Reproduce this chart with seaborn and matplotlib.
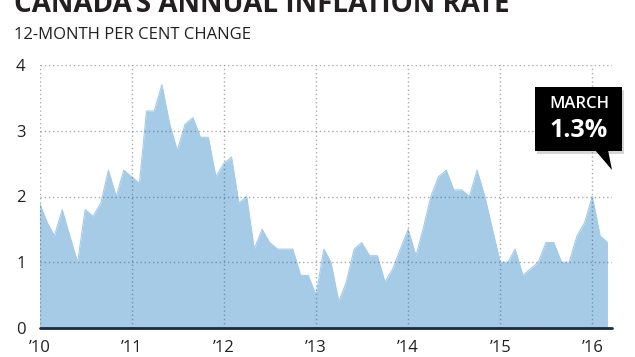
import matplotlib.pyplot as plt
import numpy as np
import pandas as pd
import seaborn as sns
from matplotlib.patches import Polygon, Rectangle

# Monthly 12-month CPI change, Jan 2010 - Mar 2016
MONTHS = pd.date_range('2010-01-01', '2016-03-01', freq='MS')
RATES = [
    1.9, 1.6, 1.4, 1.8, 1.4, 1.0, 1.8, 1.7, 1.9, 2.4, 2.0, 2.4,
    2.3, 2.2, 3.3, 3.3, 3.7, 3.1, 2.7, 3.1, 3.2, 2.9, 2.9, 2.3,
    2.5, 2.6, 1.9, 2.0, 1.2, 1.5, 1.3, 1.2, 1.2, 1.2, 0.8, 0.8,
    0.5, 1.2, 1.0, 0.4, 0.7, 1.2, 1.3, 1.1, 1.1, 0.7, 0.9, 1.2,
    1.5, 1.1, 1.5, 2.0, 2.3, 2.4, 2.1, 2.1, 2.0, 2.4, 2.0, 1.5,
    1.0, 1.0, 1.2, 0.8, 0.9, 1.0, 1.3, 1.3, 1.0, 1.0, 1.4, 1.6,
    2.0, 1.4, 1.3,
]
YEAR_TICKS = pd.date_range('2010-01-01', '2016-01-01', freq='YS')
YEAR_LABELS = ['\u201910', '\u201911', '\u201912', '\u201913', '\u201914', '\u201915', '\u201916']
Y_TICKS = [0, 1, 2, 3, 4]

TITLE = 'CANADA\u2019S ANNUAL INFLATION RATE'
SUBTITLE = '12-MONTH PER CENT CHANGE'
CALLOUT_MONTH = 'MARCH'
CALLOUT_VALUE = '1.3%'

FILL = '#a6cbe6'
INK = '#231f20'

sns.set_theme(style='white')
plt.rcParams['font.family'] = ['Open Sans', 'DejaVu Sans']

W, H = 635, 357
fig = plt.figure(figsize=(W / 100, H / 100), dpi=100)


def fx(px):
    return px / W


def fy(py):
    return 1 - py / H


# Plot area
ax = fig.add_axes([fx(39.5), fy(328), fx(612) - fx(39.5), fy(65) - fy(328)])
df = pd.DataFrame({'month': MONTHS, 'rate': RATES})
ax.fill_between(df['month'], 0, df['rate'], color=FILL, lw=0, zorder=1)
sns.lineplot(data=df, x='month', y='rate', color=FILL, lw=0.8, ax=ax, zorder=2)

ax.set_xlim(MONTHS[0], MONTHS[-1] + pd.Timedelta(days=18))
ax.set_ylim(0, 4)
ax.set_xticks(YEAR_TICKS)
ax.set_xticklabels(YEAR_LABELS)
ax.set_yticks(Y_TICKS)
ax.set_yticklabels([str(t) for t in Y_TICKS])
ax.set_xlabel('')
ax.set_ylabel('')

# Dotted grid drawn over the fill, semi-transparent so it darkens on the blue
ax.set_axisbelow(False)
ax.grid(True, linestyle=(0, (1, 2)), color='#3a4a5c', alpha=0.45, lw=1.0)
for s in ax.spines.values():
    s.set_visible(False)
ax.tick_params(length=0, labelsize=12, labelcolor=INK)
ax.tick_params(axis='y', pad=10)
ax.tick_params(axis='x', pad=9)
ax.axhline(0, color='#1c2a44', lw=2, zorder=4, clip_on=False)

# Titles (top title is cropped by the frame, as in the original)
fig.text(fx(14), fy(12), TITLE, fontsize=20, fontweight='bold', color=INK, va='baseline')
fig.text(fx(14), fy(39), SUBTITLE, fontsize=12, color=INK, va='baseline')

# Callout box
box_x0, box_x1, box_y0, box_y1 = 535, 622, 87, 151
shadow = Rectangle((fx(box_x0 + 2), fy(box_y1 + 3)), fx(box_x1) - fx(box_x0), fy(box_y0) - fy(box_y1),
                   transform=fig.transFigure, color='#888888', alpha=0.35, lw=0)
fig.add_artist(shadow)
box = Rectangle((fx(box_x0), fy(box_y1)), fx(box_x1) - fx(box_x0), fy(box_y0) - fy(box_y1),
                transform=fig.transFigure, color='black', lw=0)
fig.add_artist(box)
tail = Polygon([(fx(595), fy(150)), (fx(608), fy(150)), (fx(612), fy(170))],
               closed=True, transform=fig.transFigure, color='black', lw=0)
fig.add_artist(tail)
fig.text(fx(579), fy(108), CALLOUT_MONTH, fontsize=12, fontweight='semibold', color='white',
         ha='center', va='baseline')
fig.text(fx(579), fy(137), CALLOUT_VALUE, fontsize=18, fontweight='bold', color='white',
         ha='center', va='baseline')

fig.savefig('out.png', dpi=100)
